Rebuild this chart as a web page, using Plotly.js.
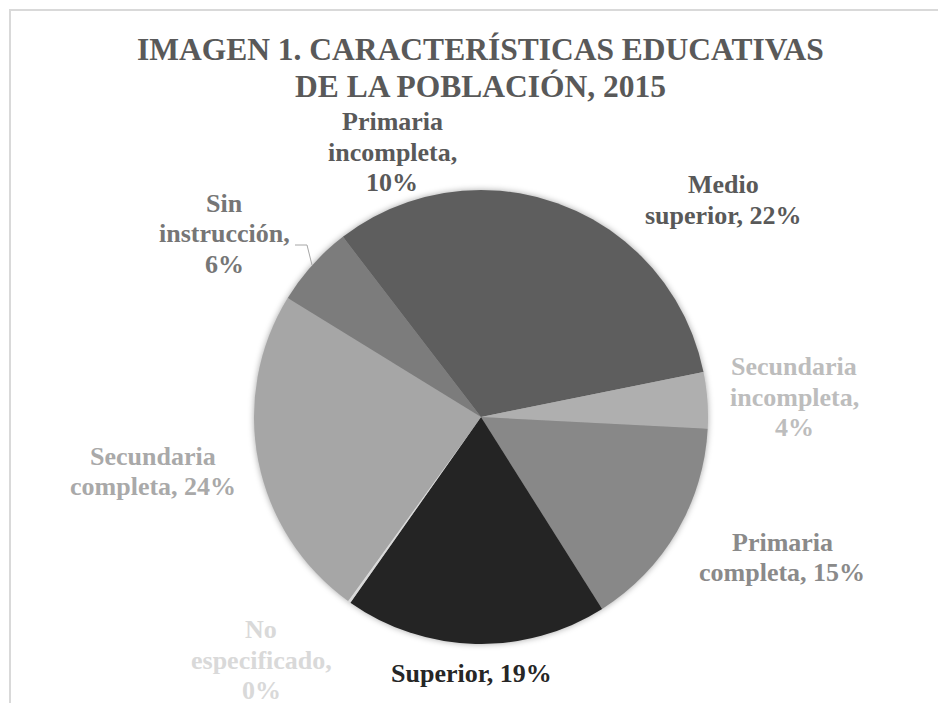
<!DOCTYPE html>
<html>
<head>
<meta charset="utf-8">
<script src="https://cdn.plot.ly/plotly-3.0.1.min.js"></script>
<style>
  html, body { margin: 0; padding: 0; background: #ffffff; }
  #chart { width: 938px; height: 703px; }
  .pielayer .trace { filter: drop-shadow(0px 0px 3px rgba(0,0,0,0.35)); }
</style>
</head>
<body>
<div id="chart"></div>
<script>
// ---- data ----
const categories = ['Medio superior', 'Secundaria incompleta', 'Primaria completa', 'Superior',
                    'No especificado', 'Secundaria completa', 'Sin instrucción', 'Primaria incompleta'];
const values = [21.8, 4.0, 15.2, 18.7, 0.2, 23.8, 5.8, 10.4];
const chartTitleLines = ['IMAGEN 1. CARACTERÍSTICAS EDUCATIVAS', 'DE LA POBLACIÓN, 2015'];

// ---- styles / positions ----
const sliceColors = ['#5e5e5e', '#afafaf', '#888888', '#242424', '#d9d9d9', '#a6a6a6', '#7c7c7c', '#5e5e5e'];
const labelColors = ['#595959', '#bdbdbd', '#8a8a8a', '#262626', '#d9d9d9', '#a9a9a9', '#767676', '#595959'];
const wordsPerLine = [[1, 2], [1, 1, 1], [1, 2], [2], [1, 1, 1], [1, 2], [1, 1, 1], [1, 1, 1]];
const labelPos = [[723, 193.5], [794, 375.5], [782, 551], [471, 682.7], [261, 638.5], [153, 465], [224, 212], [392, 130.5]];

const W = 938, H = 703;
const FONT = 'Times New Roman, Liberation Serif, serif';
const LABEL_SIZE = 26, LINE_GAP = 30.5;
const TITLE_SIZE = 31.5;
const px = x => x / W;
const py = y => (H - y) / H;

// pie geometry (center 481,417 radius 227)
const cx = 481, cy = 417, r = 227;

const total = values.reduce((a, b) => a + b, 0);
const annotations = [];

// data labels
categories.forEach((cat, i) => {
  const pct = Math.round(values[i] / total * 100);
  const words = (cat + ', ' + pct + '%').split(' ');
  const lines = [];
  let k = 0;
  wordsPerLine[i].forEach(n => { lines.push(words.slice(k, k + n).join(' ')); k += n; });
  if (k < words.length) lines[lines.length - 1] += ' ' + words.slice(k).join(' ');
  lines.forEach((ln, j) => {
    const baseline = labelPos[i][1] + j * LINE_GAP;
    annotations.push({
      text: ln, xref: 'paper', yref: 'paper',
      x: px(labelPos[i][0]), y: py(baseline - 0.3375 * LABEL_SIZE),
      xanchor: 'center', yanchor: 'middle', showarrow: false,
      font: { family: FONT, size: LABEL_SIZE, color: labelColors[i], weight: 'bold' }
    });
  });
});

// title lines
const titleBaselines = [60, 97];
chartTitleLines.forEach((t, j) => {
  annotations.push({
    text: t, xref: 'paper', yref: 'paper',
    x: px(480.5), y: py(titleBaselines[j] - 0.3375 * TITLE_SIZE),
    xanchor: 'center', yanchor: 'middle', showarrow: false,
    font: { family: FONT, size: TITLE_SIZE, color: '#595959', weight: 'bold' }
  });
});

const trace = {
  type: 'pie',
  labels: categories,
  values: values,
  sort: false,
  direction: 'clockwise',
  rotation: 0,
  textinfo: 'none',
  hoverinfo: 'none',
  showlegend: false,
  marker: { colors: sliceColors, line: { width: 0 } },
  domain: { x: [px(cx - r), px(cx + r)], y: [py(cy + r), py(cy - r)] }
};

const layout = {
  width: W, height: H,
  margin: { l: 0, r: 0, t: 0, b: 0 },
  paper_bgcolor: '#ffffff',
  showlegend: false,
  annotations: annotations,
  shapes: [
    { type: 'rect', xref: 'paper', yref: 'paper',
      x0: px(10), x1: 1.05, y0: -0.05, y1: py(10),
      line: { color: '#d9d9d9', width: 2 }, fillcolor: 'rgba(0,0,0,0)' },
    { type: 'path', xref: 'paper', yref: 'paper',
      path: 'M ' + px(295) + ',' + py(245) + ' L ' + px(307) + ',' + py(245) + ' L ' + px(312) + ',' + py(265),
      line: { color: '#a6a6a6', width: 1 } }
  ]
};

Plotly.newPlot('chart', [trace], layout, { displayModeBar: false, staticPlot: true });
</script>
</body>
</html>
